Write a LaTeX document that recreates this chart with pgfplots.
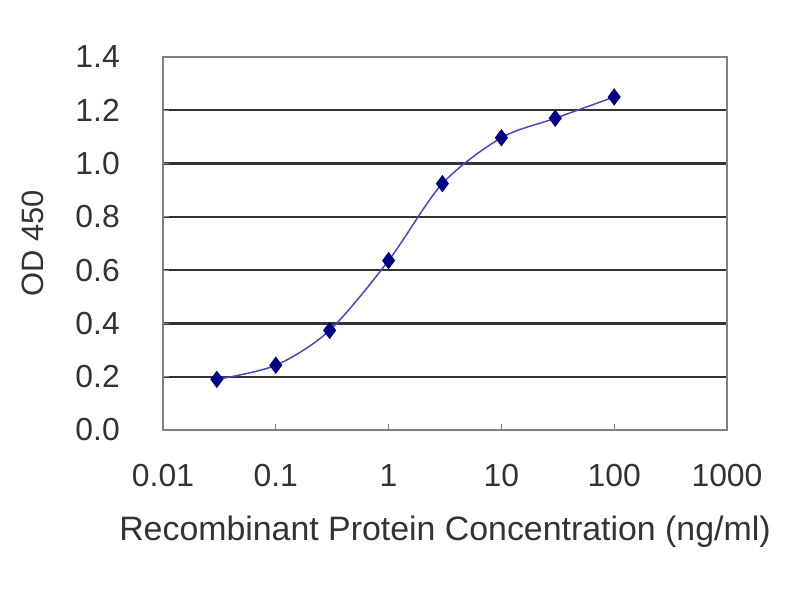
\documentclass[border=0pt]{standalone}
\usepackage{pgfplots}
\pgfplotsset{compat=1.18}
\usepackage{fontspec}
\setmainfont{Liberation Sans}
\definecolor{txt}{HTML}{333333}
\definecolor{navy}{HTML}{000080}
\definecolor{linec}{HTML}{4A4AB5}
\definecolor{axgray}{HTML}{808080}
\begin{document}
\begin{tikzpicture}
\begin{axis}[
  scale only axis,
  width=564bp, height=373bp,
  xmode=log, log basis x=10,
  xmin=0.01, xmax=1000,
  ymin=0, ymax=1.4,
  xtick={0.01,0.1,1,10,100,1000},
  xticklabels={0.01,0.1,1,10,100,1000},
  ytick={0,0.2,0.4,0.6,0.8,1.0,1.2,1.4},
  yticklabels={0.0,0.2,0.4,0.6,0.8,1.0,1.2,1.4},
  xminorticks=false, yminorticks=false,
  tick pos=left, tick align=inside,
  major tick length=6bp,
  every tick/.style={axgray, line width=1.2bp},
  axis line style={axgray, line width=1.8bp},
  ymajorgrids,
  grid style={black!80, line width=2.2bp},
  every x tick label/.append style={font=\fontsize{32}{36}\selectfont, text=txt, inner sep=0pt, anchor=north, yshift=-34bp},
  every y tick label/.append style={font=\fontsize{32}{36}\selectfont, text=txt, inner sep=0pt, anchor=east, xshift=-43bp},
  xlabel={Recombinant Protein Concentration (ng/ml)},
  ylabel={OD 450},
  xlabel style={font=\fontsize{34}{38}\selectfont, text=txt, inner sep=0pt, at={(axis description cs:0.5,0)}, anchor=north, yshift=-86bp},
  ylabel style={font=\fontsize{31}{35}\selectfont, text=txt, inner sep=0pt, at={(axis description cs:-0.2305,0.5)}, anchor=center},
]
\addplot[linec, line width=1.5bp, smooth, mark=diamond*, mark size=7.5bp,
  mark options={navy, fill=navy, solid}]
  coordinates {
    (0.03,0.19) (0.1,0.243) (0.3,0.374) (1,0.636)
    (3,0.925) (10,1.097) (30,1.17) (100,1.25)
  };
\end{axis}
\path[use as bounding box] (-163bp,-170bp) rectangle (637bp,430bp);
\end{tikzpicture}
\end{document}
